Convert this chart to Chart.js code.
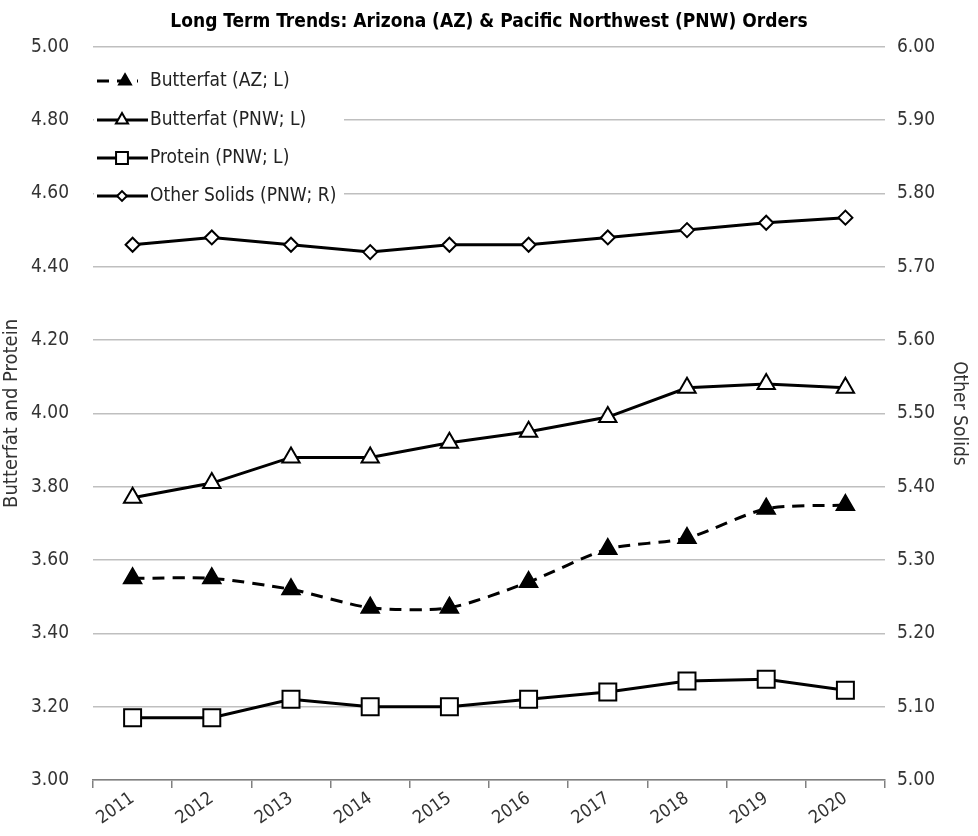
<!DOCTYPE html>
<html>
<head>
<meta charset="utf-8">
<script src="https://cdn.jsdelivr.net/npm/chart.js@4.4.1/dist/chart.umd.min.js"></script>
<style>
  html, body { margin: 0; padding: 0; background: #fff; }
  #wrap { width: 978px; height: 836px; }
</style>
</head>
<body>
<div id="wrap"><canvas id="chart" width="978" height="836"></canvas></div>
<script>
// data
const years = ['2011','2012','2013','2014','2015','2016','2017','2018','2019','2020'];
const butterfatAZ  = [3.55, 3.55, 3.52, 3.47, 3.47, 3.54, 3.63, 3.66, 3.74, 3.75];
const butterfatPNW = [3.77, 3.81, 3.88, 3.88, 3.92, 3.95, 3.99, 4.07, 4.08, 4.07];
const proteinPNW   = [3.17, 3.17, 3.22, 3.20, 3.20, 3.22, 3.24, 3.27, 3.275, 3.245];
const otherSolids  = [5.73, 5.74, 5.73, 5.72, 5.73, 5.73, 5.74, 5.75, 5.76, 5.767];
const legendNames  = ['Butterfat (AZ; L)', 'Butterfat (PNW; L)', 'Protein (PNW; L)', 'Other Solids (PNW; R)'];

const FONT = "'DejaVu Sans Condensed', 'Liberation Sans Narrow', sans-serif";
const TXT = '#333';

// legend sitting inside the plot, top left, on a white patch
const insideLegend = {
  id: 'insideLegend',
  beforeDatasetsDraw(chart) {
    const ctx = chart.ctx;
    const a = chart.chartArea;
    ctx.save();
    ctx.fillStyle = '#fff';
    ctx.fillRect(a.left + 1, 55, 250, 160);
    const rows = [81, 120, 158, 196];
    chart.data.datasets.forEach((ds, i) => {
      const y = rows[i];
      const x0 = a.left + 4, x1 = i === 0 ? a.left + 45 : a.left + 55;
      const mx = i === 0 ? a.left + 32 : a.left + 29;
      ctx.beginPath();
      ctx.setLineDash(ds.borderDash || []);
      ctx.lineWidth = ds.borderWidth;
      ctx.strokeStyle = ds.borderColor;
      ctx.moveTo(x0, y);
      ctx.lineTo(x1, y);
      ctx.stroke();
      ctx.setLineDash([]);
      ctx.fillStyle = ds.pointBackgroundColor;
      ctx.strokeStyle = ds.pointBorderColor;
      ctx.lineWidth = ds.pointBorderWidth;
      Chart.helpers.drawPoint(ctx, {
        pointStyle: ds.pointStyle, radius: ds.pointRadius * 0.7,
        borderWidth: ds.pointBorderWidth, rotation: 0
      }, mx, y);
      ctx.fillStyle = '#222';
      ctx.font = '19px ' + FONT;
      ctx.textBaseline = 'middle';
      ctx.fillText(legendNames[i], a.left + 57, y);
    });
    ctx.restore();
  }
};

new Chart(document.getElementById('chart'), {
  type: 'line',
  data: {
    labels: years,
    datasets: [
      {
        label: legendNames[0], data: butterfatAZ, yAxisID: 'y',
        borderColor: '#000', borderWidth: 3, borderDash: [12, 8], tension: 0.25,
        pointStyle: 'triangle', pointRadius: 10.5, pointBackgroundColor: '#000',
        pointBorderColor: '#000', pointBorderWidth: 1.5
      },
      {
        label: legendNames[1], data: butterfatPNW, yAxisID: 'y',
        borderColor: '#000', borderWidth: 3, tension: 0,
        pointStyle: 'triangle', pointRadius: 10, pointBackgroundColor: '#fff',
        pointBorderColor: '#000', pointBorderWidth: 2
      },
      {
        label: legendNames[2], data: proteinPNW, yAxisID: 'y',
        borderColor: '#000', borderWidth: 3, tension: 0,
        pointStyle: 'rect', pointRadius: 12, pointBackgroundColor: '#fff',
        pointBorderColor: '#000', pointBorderWidth: 2
      },
      {
        label: legendNames[3], data: otherSolids, yAxisID: 'y1',
        borderColor: '#000', borderWidth: 3, tension: 0,
        pointStyle: 'rectRot', pointRadius: 7, pointBackgroundColor: '#fff',
        pointBorderColor: '#000', pointBorderWidth: 2
      }
    ]
  },
  options: {
    responsive: false,
    animation: false,
    layout: { padding: { left: 0, right: 0, top: 0, bottom: 0 } },
    plugins: {
      legend: { display: false },
      tooltip: { enabled: false },
      title: {
        display: true,
        text: 'Long Term Trends: Arizona (AZ) & Pacific Northwest (PNW) Orders',
        color: '#000',
        font: { family: FONT, size: 19, weight: 'bold', lineHeight: 1.2 },
        padding: { top: 11, bottom: 13 }
      }
    },
    scales: {
      x: {
        offset: true,
        grid: { display: true, drawOnChartArea: false, offset: true, tickLength: 8, color: '#808080', lineWidth: 1.5 },
        border: { display: true, color: '#808080', width: 1.5 },
        ticks: { color: TXT, font: { family: FONT, size: 18 }, minRotation: 35, maxRotation: 35, padding: 0 },
        afterFit: s => { s.height = 56; }
      },
      y: {
        position: 'left', min: 3, max: 5,
        ticks: { stepSize: 0.2, color: TXT, font: { family: FONT, size: 19 }, padding: 24,
                 callback: v => v.toFixed(2) },
        grid: { color: '#bfbfbf', lineWidth: 1.5, drawTicks: false },
        border: { display: false },
        title: { display: true, text: 'Butterfat and Protein', color: TXT,
                 font: { family: FONT, size: 20, lineHeight: 1 }, padding: { top: 2, bottom: 0 } },
        afterFit: s => { s.width = 93; }
      },
      y1: {
        position: 'right', min: 5, max: 6,
        ticks: { stepSize: 0.1, color: TXT, font: { family: FONT, size: 19 }, padding: 12,
                 callback: v => v.toFixed(2) },
        grid: { drawOnChartArea: false, drawTicks: false },
        border: { display: false },
        title: { display: true, text: 'Other Solids', color: TXT,
                 font: { family: FONT, size: 19, lineHeight: 1 }, padding: { top: 10, bottom: 0 } },
        afterFit: s => { s.width = 93; }
      }
    }
  },
  plugins: [insideLegend]
});
</script>
</body>
</html>
